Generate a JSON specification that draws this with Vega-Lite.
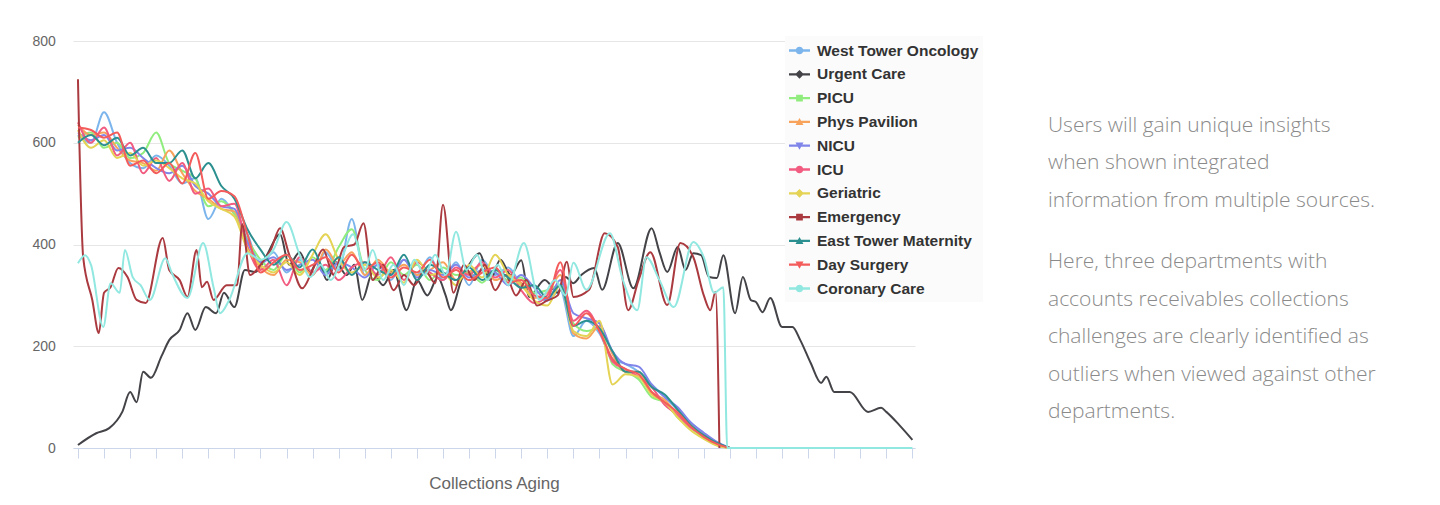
{
"$schema":"https://vega.github.io/schema/vega-lite/v6.json",
"background":"white",
"padding":{"left":32,"top":34,"right":5,"bottom":5},
"config":{"view":{"stroke":null}},
"bounds":"flush",
"spacing":132,
"datasets":{
"depts":[{"c":"WTO","dept":"West Tower Oncology"},{"c":"UC","dept":"Urgent Care"},{"c":"PICU","dept":"PICU"},{"c":"PP","dept":"Phys Pavilion"},{"c":"NICU","dept":"NICU"},{"c":"ICU","dept":"ICU"},{"c":"GER","dept":"Geriatric"},{"c":"EM","dept":"Emergency"},{"c":"ETM","dept":"East Tower Maternity"},{"c":"DS","dept":"Day Surgery"},{"c":"CC","dept":"Coronary Care"}],
"aging":[
{"c":"WTO","age":0,"amt":615},{"c":"WTO","age":0.5,"amt":600},{"c":"WTO","age":1,"amt":660},{"c":"WTO","age":1.5,"amt":600},{"c":"WTO","age":2,"amt":560},{"c":"WTO","age":2.5,"amt":550},{"c":"WTO","age":3,"amt":575},{"c":"WTO","age":3.5,"amt":555},{"c":"WTO","age":4,"amt":520},{"c":"WTO","age":4.5,"amt":530},{"c":"WTO","age":5,"amt":450},{"c":"WTO","age":5.5,"amt":490},{"c":"WTO","age":6,"amt":460},{"c":"WTO","age":6.5,"amt":420},{"c":"WTO","age":7,"amt":360},{"c":"WTO","age":7.5,"amt":385},{"c":"WTO","age":8,"amt":345},{"c":"WTO","age":8.5,"amt":370},{"c":"WTO","age":9,"amt":340},{"c":"WTO","age":9.5,"amt":385},{"c":"WTO","age":10,"amt":350},{"c":"WTO","age":10.5,"amt":450},{"c":"WTO","age":11,"amt":340},{"c":"WTO","age":11.5,"amt":360},{"c":"WTO","age":12,"amt":330},{"c":"WTO","age":12.5,"amt":370},{"c":"WTO","age":13,"amt":340},{"c":"WTO","age":13.5,"amt":375},{"c":"WTO","age":14,"amt":330},{"c":"WTO","age":14.5,"amt":365},{"c":"WTO","age":15,"amt":320},{"c":"WTO","age":15.5,"amt":370},{"c":"WTO","age":16,"amt":340},{"c":"WTO","age":16.5,"amt":355},{"c":"WTO","age":17,"amt":320},{"c":"WTO","age":17.5,"amt":300},{"c":"WTO","age":18,"amt":290},{"c":"WTO","age":18.5,"amt":310},{"c":"WTO","age":19,"amt":220},{"c":"WTO","age":19.5,"amt":250},{"c":"WTO","age":20,"amt":225},{"c":"WTO","age":20.5,"amt":175},{"c":"WTO","age":21,"amt":165},{"c":"WTO","age":21.5,"amt":150},{"c":"WTO","age":22,"amt":125},{"c":"WTO","age":22.5,"amt":100},{"c":"WTO","age":23,"amt":75},{"c":"WTO","age":23.5,"amt":50},{"c":"WTO","age":24,"amt":28},{"c":"WTO","age":24.5,"amt":10},{"c":"WTO","age":25,"amt":0},
{"c":"UC","age":0,"amt":6},{"c":"UC","age":0.7,"amt":29},{"c":"UC","age":1.2,"amt":39},{"c":"UC","age":1.7,"amt":71},{"c":"UC","age":2,"amt":110},{"c":"UC","age":2.25,"amt":90},{"c":"UC","age":2.5,"amt":150},{"c":"UC","age":2.8,"amt":138},{"c":"UC","age":3.2,"amt":180},{"c":"UC","age":3.5,"amt":212},{"c":"UC","age":3.9,"amt":232},{"c":"UC","age":4.2,"amt":265},{"c":"UC","age":4.5,"amt":232},{"c":"UC","age":4.9,"amt":277},{"c":"UC","age":5.3,"amt":265},{"c":"UC","age":5.6,"amt":305},{"c":"UC","age":6,"amt":277},{"c":"UC","age":6.4,"amt":350},{"c":"UC","age":6.8,"amt":346},{"c":"UC","age":7.2,"amt":375},{"c":"UC","age":7.75,"amt":420},{"c":"UC","age":8.1,"amt":360},{"c":"UC","age":8.5,"amt":385},{"c":"UC","age":8.9,"amt":345},{"c":"UC","age":9.2,"amt":370},{"c":"UC","age":9.55,"amt":330},{"c":"UC","age":9.9,"amt":365},{"c":"UC","age":10.3,"amt":340},{"c":"UC","age":10.6,"amt":360},{"c":"UC","age":10.9,"amt":291},{"c":"UC","age":11.3,"amt":345},{"c":"UC","age":11.7,"amt":320},{"c":"UC","age":12.1,"amt":350},{"c":"UC","age":12.6,"amt":271},{"c":"UC","age":13,"amt":330},{"c":"UC","age":13.4,"amt":300},{"c":"UC","age":13.8,"amt":335},{"c":"UC","age":14.1,"amt":300},{"c":"UC","age":14.3,"amt":271},{"c":"UC","age":14.7,"amt":330},{"c":"UC","age":15,"amt":360},{"c":"UC","age":15.4,"amt":383},{"c":"UC","age":15.8,"amt":330},{"c":"UC","age":16.2,"amt":370},{"c":"UC","age":16.6,"amt":340},{"c":"UC","age":17,"amt":369},{"c":"UC","age":17.3,"amt":297},{"c":"UC","age":17.9,"amt":330},{"c":"UC","age":18.4,"amt":305},{"c":"UC","age":18.7,"amt":336},{"c":"UC","age":19,"amt":324},{"c":"UC","age":19.3,"amt":340},{"c":"UC","age":19.8,"amt":354},{"c":"UC","age":20.1,"amt":311},{"c":"UC","age":20.7,"amt":403},{"c":"UC","age":21.3,"amt":314},{"c":"UC","age":22,"amt":432},{"c":"UC","age":22.3,"amt":385},{"c":"UC","age":22.6,"amt":346},{"c":"UC","age":23,"amt":395},{"c":"UC","age":23.3,"amt":350},{"c":"UC","age":23.6,"amt":383},{"c":"UC","age":23.9,"amt":379},{"c":"UC","age":24.2,"amt":336},{"c":"UC","age":24.5,"amt":334},{"c":"UC","age":24.75,"amt":379},{"c":"UC","age":25.2,"amt":265},{"c":"UC","age":25.5,"amt":336},{"c":"UC","age":25.8,"amt":291},{"c":"UC","age":26,"amt":287},{"c":"UC","age":26.25,"amt":267},{"c":"UC","age":26.55,"amt":295},{"c":"UC","age":27,"amt":238},{"c":"UC","age":27.4,"amt":238},{"c":"UC","age":27.7,"amt":212},{"c":"UC","age":28.1,"amt":167},{"c":"UC","age":28.5,"amt":128},{"c":"UC","age":28.7,"amt":140},{"c":"UC","age":29,"amt":110},{"c":"UC","age":29.6,"amt":110},{"c":"UC","age":30.3,"amt":71},{"c":"UC","age":30.8,"amt":79},{"c":"UC","age":31,"amt":71},{"c":"UC","age":31.5,"amt":45},{"c":"UC","age":32,"amt":16},
{"c":"PICU","age":0,"amt":610},{"c":"PICU","age":0.5,"amt":620},{"c":"PICU","age":1,"amt":590},{"c":"PICU","age":1.5,"amt":600},{"c":"PICU","age":2,"amt":570},{"c":"PICU","age":2.5,"amt":580},{"c":"PICU","age":3,"amt":620},{"c":"PICU","age":3.5,"amt":560},{"c":"PICU","age":4,"amt":545},{"c":"PICU","age":4.5,"amt":530},{"c":"PICU","age":5,"amt":475},{"c":"PICU","age":5.5,"amt":485},{"c":"PICU","age":6,"amt":460},{"c":"PICU","age":6.5,"amt":410},{"c":"PICU","age":7,"amt":370},{"c":"PICU","age":7.5,"amt":350},{"c":"PICU","age":8,"amt":380},{"c":"PICU","age":8.5,"amt":345},{"c":"PICU","age":9,"amt":375},{"c":"PICU","age":9.5,"amt":350},{"c":"PICU","age":10,"amt":395},{"c":"PICU","age":10.5,"amt":430},{"c":"PICU","age":11,"amt":350},{"c":"PICU","age":11.5,"amt":330},{"c":"PICU","age":12,"amt":365},{"c":"PICU","age":12.5,"amt":340},{"c":"PICU","age":13,"amt":360},{"c":"PICU","age":13.5,"amt":330},{"c":"PICU","age":14,"amt":355},{"c":"PICU","age":14.5,"amt":340},{"c":"PICU","age":15,"amt":345},{"c":"PICU","age":15.5,"amt":325},{"c":"PICU","age":16,"amt":350},{"c":"PICU","age":16.5,"amt":330},{"c":"PICU","age":17,"amt":335},{"c":"PICU","age":17.5,"amt":305},{"c":"PICU","age":18,"amt":310},{"c":"PICU","age":18.5,"amt":320},{"c":"PICU","age":19,"amt":245},{"c":"PICU","age":19.5,"amt":230},{"c":"PICU","age":20,"amt":235},{"c":"PICU","age":20.5,"amt":165},{"c":"PICU","age":21,"amt":150},{"c":"PICU","age":21.5,"amt":135},{"c":"PICU","age":22,"amt":100},{"c":"PICU","age":22.5,"amt":90},{"c":"PICU","age":23,"amt":60},{"c":"PICU","age":23.5,"amt":40},{"c":"PICU","age":24,"amt":20},{"c":"PICU","age":24.5,"amt":8},{"c":"PICU","age":25,"amt":0},
{"c":"PP","age":0,"amt":635},{"c":"PP","age":0.5,"amt":615},{"c":"PP","age":1,"amt":620},{"c":"PP","age":1.5,"amt":590},{"c":"PP","age":2,"amt":565},{"c":"PP","age":2.5,"amt":560},{"c":"PP","age":3,"amt":545},{"c":"PP","age":3.5,"amt":585},{"c":"PP","age":4,"amt":540},{"c":"PP","age":4.5,"amt":505},{"c":"PP","age":5,"amt":490},{"c":"PP","age":5.5,"amt":470},{"c":"PP","age":6,"amt":465},{"c":"PP","age":6.5,"amt":395},{"c":"PP","age":7,"amt":355},{"c":"PP","age":7.5,"amt":340},{"c":"PP","age":8,"amt":370},{"c":"PP","age":8.5,"amt":365},{"c":"PP","age":9,"amt":340},{"c":"PP","age":9.5,"amt":390},{"c":"PP","age":10,"amt":360},{"c":"PP","age":10.5,"amt":385},{"c":"PP","age":11,"amt":340},{"c":"PP","age":11.5,"amt":370},{"c":"PP","age":12,"amt":345},{"c":"PP","age":12.5,"amt":360},{"c":"PP","age":13,"amt":340},{"c":"PP","age":13.5,"amt":350},{"c":"PP","age":14,"amt":365},{"c":"PP","age":14.5,"amt":330},{"c":"PP","age":15,"amt":345},{"c":"PP","age":15.5,"amt":360},{"c":"PP","age":16,"amt":330},{"c":"PP","age":16.5,"amt":340},{"c":"PP","age":17,"amt":325},{"c":"PP","age":17.5,"amt":295},{"c":"PP","age":18,"amt":305},{"c":"PP","age":18.5,"amt":340},{"c":"PP","age":19,"amt":225},{"c":"PP","age":19.5,"amt":215},{"c":"PP","age":20,"amt":240},{"c":"PP","age":20.5,"amt":185},{"c":"PP","age":21,"amt":150},{"c":"PP","age":21.5,"amt":150},{"c":"PP","age":22,"amt":110},{"c":"PP","age":22.5,"amt":95},{"c":"PP","age":23,"amt":65},{"c":"PP","age":23.5,"amt":45},{"c":"PP","age":24,"amt":22},{"c":"PP","age":24.5,"amt":8},{"c":"PP","age":25,"amt":0},
{"c":"NICU","age":0,"amt":620},{"c":"NICU","age":0.5,"amt":605},{"c":"NICU","age":1,"amt":615},{"c":"NICU","age":1.5,"amt":585},{"c":"NICU","age":2,"amt":590},{"c":"NICU","age":2.5,"amt":570},{"c":"NICU","age":3,"amt":550},{"c":"NICU","age":3.5,"amt":540},{"c":"NICU","age":4,"amt":555},{"c":"NICU","age":4.5,"amt":515},{"c":"NICU","age":5,"amt":500},{"c":"NICU","age":5.5,"amt":475},{"c":"NICU","age":6,"amt":470},{"c":"NICU","age":6.5,"amt":405},{"c":"NICU","age":7,"amt":365},{"c":"NICU","age":7.5,"amt":375},{"c":"NICU","age":8,"amt":350},{"c":"NICU","age":8.5,"amt":360},{"c":"NICU","age":9,"amt":370},{"c":"NICU","age":9.5,"amt":340},{"c":"NICU","age":10,"amt":365},{"c":"NICU","age":10.5,"amt":355},{"c":"NICU","age":11,"amt":335},{"c":"NICU","age":11.5,"amt":360},{"c":"NICU","age":12,"amt":340},{"c":"NICU","age":12.5,"amt":370},{"c":"NICU","age":13,"amt":335},{"c":"NICU","age":13.5,"amt":350},{"c":"NICU","age":14,"amt":340},{"c":"NICU","age":14.5,"amt":360},{"c":"NICU","age":15,"amt":335},{"c":"NICU","age":15.5,"amt":350},{"c":"NICU","age":16,"amt":345},{"c":"NICU","age":16.5,"amt":320},{"c":"NICU","age":17,"amt":340},{"c":"NICU","age":17.5,"amt":315},{"c":"NICU","age":18,"amt":290},{"c":"NICU","age":18.5,"amt":330},{"c":"NICU","age":19,"amt":265},{"c":"NICU","age":19.5,"amt":255},{"c":"NICU","age":20,"amt":245},{"c":"NICU","age":20.5,"amt":190},{"c":"NICU","age":21,"amt":165},{"c":"NICU","age":21.5,"amt":160},{"c":"NICU","age":22,"amt":125},{"c":"NICU","age":22.5,"amt":100},{"c":"NICU","age":23,"amt":80},{"c":"NICU","age":23.5,"amt":50},{"c":"NICU","age":24,"amt":30},{"c":"NICU","age":24.5,"amt":12},{"c":"NICU","age":25,"amt":0},
{"c":"ICU","age":0,"amt":640},{"c":"ICU","age":0.5,"amt":600},{"c":"ICU","age":1,"amt":630},{"c":"ICU","age":1.5,"amt":575},{"c":"ICU","age":2,"amt":600},{"c":"ICU","age":2.5,"amt":540},{"c":"ICU","age":3,"amt":570},{"c":"ICU","age":3.5,"amt":525},{"c":"ICU","age":4,"amt":560},{"c":"ICU","age":4.5,"amt":500},{"c":"ICU","age":5,"amt":510},{"c":"ICU","age":5.5,"amt":475},{"c":"ICU","age":6,"amt":480},{"c":"ICU","age":6.5,"amt":395},{"c":"ICU","age":7,"amt":350},{"c":"ICU","age":7.5,"amt":370},{"c":"ICU","age":8,"amt":320},{"c":"ICU","age":8.5,"amt":375},{"c":"ICU","age":9,"amt":345},{"c":"ICU","age":9.5,"amt":360},{"c":"ICU","age":10,"amt":330},{"c":"ICU","age":10.5,"amt":355},{"c":"ICU","age":11,"amt":365},{"c":"ICU","age":11.5,"amt":340},{"c":"ICU","age":12,"amt":375},{"c":"ICU","age":12.5,"amt":330},{"c":"ICU","age":13,"amt":365},{"c":"ICU","age":13.5,"amt":345},{"c":"ICU","age":14,"amt":330},{"c":"ICU","age":14.5,"amt":355},{"c":"ICU","age":15,"amt":340},{"c":"ICU","age":15.5,"amt":365},{"c":"ICU","age":16,"amt":335},{"c":"ICU","age":16.5,"amt":350},{"c":"ICU","age":17,"amt":310},{"c":"ICU","age":17.5,"amt":285},{"c":"ICU","age":18,"amt":300},{"c":"ICU","age":18.5,"amt":350},{"c":"ICU","age":19,"amt":250},{"c":"ICU","age":19.5,"amt":270},{"c":"ICU","age":20,"amt":230},{"c":"ICU","age":20.5,"amt":170},{"c":"ICU","age":21,"amt":155},{"c":"ICU","age":21.5,"amt":140},{"c":"ICU","age":22,"amt":120},{"c":"ICU","age":22.5,"amt":85},{"c":"ICU","age":23,"amt":65},{"c":"ICU","age":23.5,"amt":40},{"c":"ICU","age":24,"amt":25},{"c":"ICU","age":24.5,"amt":6},{"c":"ICU","age":25,"amt":0},
{"c":"GER","age":0,"amt":625},{"c":"GER","age":0.5,"amt":590},{"c":"GER","age":1,"amt":605},{"c":"GER","age":1.5,"amt":570},{"c":"GER","age":2,"amt":580},{"c":"GER","age":2.5,"amt":555},{"c":"GER","age":3,"amt":565},{"c":"GER","age":3.5,"amt":550},{"c":"GER","age":4,"amt":530},{"c":"GER","age":4.5,"amt":520},{"c":"GER","age":5,"amt":485},{"c":"GER","age":5.5,"amt":470},{"c":"GER","age":6,"amt":455},{"c":"GER","age":6.5,"amt":390},{"c":"GER","age":7,"amt":360},{"c":"GER","age":7.5,"amt":345},{"c":"GER","age":8,"amt":365},{"c":"GER","age":8.5,"amt":340},{"c":"GER","age":9,"amt":380},{"c":"GER","age":9.5,"amt":420},{"c":"GER","age":10,"amt":370},{"c":"GER","age":10.5,"amt":345},{"c":"GER","age":11,"amt":360},{"c":"GER","age":11.5,"amt":335},{"c":"GER","age":12,"amt":350},{"c":"GER","age":12.5,"amt":325},{"c":"GER","age":13,"amt":370},{"c":"GER","age":13.5,"amt":340},{"c":"GER","age":14,"amt":345},{"c":"GER","age":14.5,"amt":320},{"c":"GER","age":15,"amt":360},{"c":"GER","age":15.5,"amt":335},{"c":"GER","age":16,"amt":380},{"c":"GER","age":16.5,"amt":340},{"c":"GER","age":17,"amt":320},{"c":"GER","age":17.5,"amt":290},{"c":"GER","age":18,"amt":280},{"c":"GER","age":18.5,"amt":320},{"c":"GER","age":19,"amt":230},{"c":"GER","age":19.5,"amt":220},{"c":"GER","age":20,"amt":250},{"c":"GER","age":20.5,"amt":125},{"c":"GER","age":21,"amt":145},{"c":"GER","age":21.5,"amt":140},{"c":"GER","age":22,"amt":105},{"c":"GER","age":22.5,"amt":90},{"c":"GER","age":23,"amt":60},{"c":"GER","age":23.5,"amt":35},{"c":"GER","age":24,"amt":18},{"c":"GER","age":24.5,"amt":5},{"c":"GER","age":25,"amt":0},
{"c":"EM","age":0,"amt":725},{"c":"EM","age":0.2,"amt":375},{"c":"EM","age":0.55,"amt":291},{"c":"EM","age":0.8,"amt":226},{"c":"EM","age":1,"amt":305},{"c":"EM","age":1.25,"amt":316},{"c":"EM","age":1.55,"amt":354},{"c":"EM","age":1.9,"amt":336},{"c":"EM","age":2.25,"amt":291},{"c":"EM","age":2.6,"amt":285},{"c":"EM","age":3.25,"amt":413},{"c":"EM","age":3.5,"amt":350},{"c":"EM","age":3.9,"amt":330},{"c":"EM","age":4.2,"amt":297},{"c":"EM","age":4.55,"amt":389},{"c":"EM","age":4.75,"amt":316},{"c":"EM","age":4.95,"amt":327},{"c":"EM","age":5.2,"amt":291},{"c":"EM","age":5.7,"amt":320},{"c":"EM","age":6.1,"amt":320},{"c":"EM","age":6.3,"amt":440},{"c":"EM","age":6.6,"amt":340},{"c":"EM","age":7,"amt":360},{"c":"EM","age":7.4,"amt":390},{"c":"EM","age":7.75,"amt":432},{"c":"EM","age":8.1,"amt":380},{"c":"EM","age":8.6,"amt":314},{"c":"EM","age":9,"amt":350},{"c":"EM","age":9.4,"amt":390},{"c":"EM","age":9.8,"amt":340},{"c":"EM","age":10.2,"amt":395},{"c":"EM","age":10.6,"amt":400},{"c":"EM","age":10.95,"amt":442},{"c":"EM","age":11.3,"amt":330},{"c":"EM","age":11.7,"amt":360},{"c":"EM","age":12.1,"amt":310},{"c":"EM","age":12.5,"amt":340},{"c":"EM","age":12.9,"amt":320},{"c":"EM","age":13.3,"amt":350},{"c":"EM","age":13.7,"amt":324},{"c":"EM","age":14,"amt":478},{"c":"EM","age":14.4,"amt":305},{"c":"EM","age":14.8,"amt":360},{"c":"EM","age":15.2,"amt":330},{"c":"EM","age":15.6,"amt":360},{"c":"EM","age":16,"amt":310},{"c":"EM","age":16.4,"amt":340},{"c":"EM","age":16.8,"amt":300},{"c":"EM","age":17.2,"amt":330},{"c":"EM","age":17.6,"amt":280},{"c":"EM","age":18,"amt":290},{"c":"EM","age":18.4,"amt":300},{"c":"EM","age":18.75,"amt":366},{"c":"EM","age":19,"amt":297},{"c":"EM","age":19.6,"amt":311},{"c":"EM","age":20.2,"amt":422},{"c":"EM","age":20.7,"amt":395},{"c":"EM","age":21.1,"amt":271},{"c":"EM","age":21.5,"amt":330},{"c":"EM","age":21.95,"amt":385},{"c":"EM","age":22.6,"amt":281},{"c":"EM","age":23.1,"amt":403},{"c":"EM","age":23.6,"amt":375},{"c":"EM","age":24,"amt":300},{"c":"EM","age":24.25,"amt":271},{"c":"EM","age":24.45,"amt":307},{"c":"EM","age":24.6,"amt":0},
{"c":"ETM","age":0,"amt":600},{"c":"ETM","age":0.5,"amt":615},{"c":"ETM","age":1,"amt":595},{"c":"ETM","age":1.5,"amt":610},{"c":"ETM","age":2,"amt":575},{"c":"ETM","age":2.5,"amt":590},{"c":"ETM","age":3,"amt":560},{"c":"ETM","age":3.5,"amt":560},{"c":"ETM","age":4,"amt":585},{"c":"ETM","age":4.5,"amt":530},{"c":"ETM","age":5,"amt":560},{"c":"ETM","age":5.5,"amt":515},{"c":"ETM","age":6,"amt":490},{"c":"ETM","age":6.5,"amt":430},{"c":"ETM","age":7,"amt":390},{"c":"ETM","age":7.5,"amt":360},{"c":"ETM","age":8,"amt":380},{"c":"ETM","age":8.5,"amt":355},{"c":"ETM","age":9,"amt":390},{"c":"ETM","age":9.5,"amt":345},{"c":"ETM","age":10,"amt":375},{"c":"ETM","age":10.5,"amt":340},{"c":"ETM","age":11,"amt":365},{"c":"ETM","age":11.5,"amt":350},{"c":"ETM","age":12,"amt":340},{"c":"ETM","age":12.5,"amt":380},{"c":"ETM","age":13,"amt":330},{"c":"ETM","age":13.5,"amt":360},{"c":"ETM","age":14,"amt":345},{"c":"ETM","age":14.5,"amt":330},{"c":"ETM","age":15,"amt":355},{"c":"ETM","age":15.5,"amt":330},{"c":"ETM","age":16,"amt":350},{"c":"ETM","age":16.5,"amt":335},{"c":"ETM","age":17,"amt":315},{"c":"ETM","age":17.5,"amt":320},{"c":"ETM","age":18,"amt":295},{"c":"ETM","age":18.5,"amt":320},{"c":"ETM","age":19,"amt":240},{"c":"ETM","age":19.5,"amt":250},{"c":"ETM","age":20,"amt":235},{"c":"ETM","age":20.5,"amt":190},{"c":"ETM","age":21,"amt":150},{"c":"ETM","age":21.5,"amt":150},{"c":"ETM","age":22,"amt":120},{"c":"ETM","age":22.5,"amt":105},{"c":"ETM","age":23,"amt":75},{"c":"ETM","age":23.5,"amt":45},{"c":"ETM","age":24,"amt":25},{"c":"ETM","age":24.5,"amt":10},{"c":"ETM","age":25,"amt":0},
{"c":"DS","age":0,"amt":630},{"c":"DS","age":0.5,"amt":625},{"c":"DS","age":1,"amt":610},{"c":"DS","age":1.5,"amt":620},{"c":"DS","age":2,"amt":555},{"c":"DS","age":2.5,"amt":565},{"c":"DS","age":3,"amt":540},{"c":"DS","age":3.5,"amt":560},{"c":"DS","age":4,"amt":520},{"c":"DS","age":4.5,"amt":580},{"c":"DS","age":5,"amt":490},{"c":"DS","age":5.5,"amt":505},{"c":"DS","age":6,"amt":495},{"c":"DS","age":6.5,"amt":420},{"c":"DS","age":7,"amt":345},{"c":"DS","age":7.5,"amt":365},{"c":"DS","age":8,"amt":380},{"c":"DS","age":8.5,"amt":350},{"c":"DS","age":9,"amt":360},{"c":"DS","age":9.5,"amt":375},{"c":"DS","age":10,"amt":345},{"c":"DS","age":10.5,"amt":380},{"c":"DS","age":11,"amt":350},{"c":"DS","age":11.5,"amt":365},{"c":"DS","age":12,"amt":335},{"c":"DS","age":12.5,"amt":355},{"c":"DS","age":13,"amt":345},{"c":"DS","age":13.5,"amt":370},{"c":"DS","age":14,"amt":335},{"c":"DS","age":14.5,"amt":350},{"c":"DS","age":15,"amt":330},{"c":"DS","age":15.5,"amt":345},{"c":"DS","age":16,"amt":355},{"c":"DS","age":16.5,"amt":325},{"c":"DS","age":17,"amt":330},{"c":"DS","age":17.5,"amt":300},{"c":"DS","age":18,"amt":295},{"c":"DS","age":18.5,"amt":365},{"c":"DS","age":19,"amt":240},{"c":"DS","age":19.5,"amt":265},{"c":"DS","age":20,"amt":230},{"c":"DS","age":20.5,"amt":175},{"c":"DS","age":21,"amt":155},{"c":"DS","age":21.5,"amt":145},{"c":"DS","age":22,"amt":110},{"c":"DS","age":22.5,"amt":90},{"c":"DS","age":23,"amt":70},{"c":"DS","age":23.5,"amt":42},{"c":"DS","age":24,"amt":22},{"c":"DS","age":24.5,"amt":8},{"c":"DS","age":25,"amt":0},
{"c":"CC","age":0,"amt":363},{"c":"CC","age":0.27,"amt":379},{"c":"CC","age":0.5,"amt":360},{"c":"CC","age":0.97,"amt":238},{"c":"CC","age":1.25,"amt":324},{"c":"CC","age":1.6,"amt":305},{"c":"CC","age":1.8,"amt":389},{"c":"CC","age":2.1,"amt":336},{"c":"CC","age":2.4,"amt":320},{"c":"CC","age":2.76,"amt":291},{"c":"CC","age":3.35,"amt":373},{"c":"CC","age":3.6,"amt":344},{"c":"CC","age":4.2,"amt":295},{"c":"CC","age":4.8,"amt":403},{"c":"CC","age":5.2,"amt":316},{"c":"CC","age":5.45,"amt":265},{"c":"CC","age":5.8,"amt":291},{"c":"CC","age":6.5,"amt":383},{"c":"CC","age":7,"amt":370},{"c":"CC","age":7.5,"amt":390},{"c":"CC","age":8,"amt":444},{"c":"CC","age":8.5,"amt":380},{"c":"CC","age":8.9,"amt":336},{"c":"CC","age":9.3,"amt":360},{"c":"CC","age":9.7,"amt":330},{"c":"CC","age":10.1,"amt":370},{"c":"CC","age":10.55,"amt":420},{"c":"CC","age":11,"amt":350},{"c":"CC","age":11.3,"amt":389},{"c":"CC","age":11.7,"amt":330},{"c":"CC","age":12.1,"amt":360},{"c":"CC","age":12.5,"amt":320},{"c":"CC","age":12.9,"amt":370},{"c":"CC","age":13.3,"amt":340},{"c":"CC","age":13.7,"amt":380},{"c":"CC","age":14.1,"amt":340},{"c":"CC","age":14.5,"amt":425},{"c":"CC","age":14.9,"amt":350},{"c":"CC","age":15.3,"amt":380},{"c":"CC","age":15.7,"amt":330},{"c":"CC","age":16.1,"amt":360},{"c":"CC","age":16.5,"amt":320},{"c":"CC","age":17.1,"amt":403},{"c":"CC","age":17.7,"amt":291},{"c":"CC","age":18.3,"amt":330},{"c":"CC","age":18.7,"amt":300},{"c":"CC","age":19,"amt":364},{"c":"CC","age":19.5,"amt":311},{"c":"CC","age":20.4,"amt":422},{"c":"CC","age":20.9,"amt":330},{"c":"CC","age":21.45,"amt":271},{"c":"CC","age":21.8,"amt":375},{"c":"CC","age":22.3,"amt":330},{"c":"CC","age":22.85,"amt":277},{"c":"CC","age":23.6,"amt":405},{"c":"CC","age":24,"amt":375},{"c":"CC","age":24.4,"amt":305},{"c":"CC","age":24.75,"amt":316},{"c":"CC","age":24.9,"amt":0},{"c":"CC","age":32,"amt":0}
]},
"hconcat":[
{
"width":842,"height":407,
"data":{"name":"aging"},
"transform":[{"lookup":"c","from":{"data":{"name":"depts"},"key":"c","fields":["dept"]}}],
"encoding":{
"x":{"field":"age","type":"quantitative","scale":{"domain":[-0.19,32.1],"nice":false,"zero":false},
"axis":{"values":[0,1,2,3,4,5,6,7,8,9,10,11,12,13,14,15,16,17,18,19,20,21,22,23,24,25,26,27,28,29,30,31,32],"labels":false,"grid":false,"domainColor":"#ccd6eb","tickColor":"#ccd6eb","tickSize":10,"title":"Collections Aging","titleFont":"Liberation Sans","titleFontSize":17,"titleFontWeight":"normal","titleColor":"#666666","titlePadding":17}},
"y":{"field":"amt","type":"quantitative","scale":{"domain":[0,800],"nice":false},
"axis":{"values":[0,200,400,600,800],"title":null,"domain":false,"ticks":false,"tickSize":0,"grid":true,"gridColor":"#e6e6e6","labelFont":"Liberation Sans","labelFontSize":14,"labelColor":"#666666","labelPadding":17.6}}
},
"layer":[
{"transform":[{"filter":"datum.age < -1"}],
"mark":{"type":"point","filled":true},
"encoding":{
"color":{"field":"dept","type":"nominal",
"scale":{"domain":["West Tower Oncology","Urgent Care","PICU","Phys Pavilion","NICU","ICU","Geriatric","Emergency","East Tower Maternity","Day Surgery","Coronary Care"],
"range":["#7cb5ec","#434348","#90ed7d","#f7a35c","#8085e9","#f15c80","#e4d354","#aa3a3f","#2b908f","#f45b5b","#91e8e1"]},
"legend":{"orient":"none","legendX":712,"legendY":-5,"title":null,"fillColor":"#fbfbfb","padding":4,"symbolSize":441,"symbolOpacity":1,"symbolStrokeWidth":0,"labelFont":"Liberation Sans","labelFontSize":15.5,"labelFontWeight":"bold","labelColor":"#333333","labelOffset":7,"rowPadding":4.8,"labelLimit":0}},
"shape":{"field":"dept","type":"nominal",
"scale":{"domain":["West Tower Oncology","Urgent Care","PICU","Phys Pavilion","NICU","ICU","Geriatric","Emergency","East Tower Maternity","Day Surgery","Coronary Care"],
"range":["M-1,-0.11H1V0.11H-1Z M-0.36,0A0.36,0.36 0 1,1 0.36,0A0.36,0.36 0 1,1 -0.36,0Z","M-1,-0.11H1V0.11H-1Z M0,-0.42L0.42,0L0,0.42L-0.42,0Z","M-1,-0.11H1V0.11H-1Z M-0.32,-0.32H0.32V0.32H-0.32Z","M-1,-0.11H1V0.11H-1Z M0,-0.38L0.38,0.3L-0.38,0.3Z","M-1,-0.11H1V0.11H-1Z M0,0.38L-0.38,-0.3L0.38,-0.3Z","M-1,-0.11H1V0.11H-1Z M-0.36,0A0.36,0.36 0 1,1 0.36,0A0.36,0.36 0 1,1 -0.36,0Z","M-1,-0.11H1V0.11H-1Z M0,-0.42L0.42,0L0,0.42L-0.42,0Z","M-1,-0.11H1V0.11H-1Z M-0.32,-0.32H0.32V0.32H-0.32Z","M-1,-0.11H1V0.11H-1Z M0,-0.38L0.38,0.3L-0.38,0.3Z","M-1,-0.11H1V0.11H-1Z M0,0.38L-0.38,-0.3L0.38,-0.3Z","M-1,-0.11H1V0.11H-1Z M-0.36,0A0.36,0.36 0 1,1 0.36,0A0.36,0.36 0 1,1 -0.36,0Z"]},
"legend":{"orient":"none","legendX":712,"legendY":-5,"title":null,"fillColor":"#fbfbfb","padding":4,"symbolSize":441,"symbolOpacity":1,"symbolStrokeWidth":0,"labelFont":"Liberation Sans","labelFontSize":15.5,"labelFontWeight":"bold","labelColor":"#333333","labelOffset":7,"rowPadding":4.8,"labelLimit":0}}
}},
{"mark":{"type":"line","interpolate":"monotone","strokeWidth":2},
"encoding":{"color":{"field":"dept","type":"nominal","legend":null,
"scale":{"domain":["West Tower Oncology","Urgent Care","PICU","Phys Pavilion","NICU","ICU","Geriatric","Emergency","East Tower Maternity","Day Surgery","Coronary Care"],
"range":["#7cb5ec","#434348","#90ed7d","#f7a35c","#8085e9","#f15c80","#e4d354","#aa3a3f","#2b908f","#f45b5b","#91e8e1"]}}}}
]
},
{
"width":2,"height":318,
"data":{"values":[{"para":1,"text":"Users will gain unique insights\nwhen shown integrated\ninformation from multiple sources."},{"para":2,"text":"Here, three departments with\naccounts receivables collections\nchallenges are clearly identified as\noutliers when viewed against other\ndepartments."}]},
"mark":{"type":"text","align":"left","baseline":"alphabetic","lineBreak":"\n","lineHeight":37.5,"font":"Open Sans","fontSize":21,"fontWeight":300,"color":"#8a8a8a"},
"encoding":{"y":{"field":"para","type":"ordinal","axis":null,"scale":{"padding":0.6655}},"text":{"field":"text","type":"nominal"}}
}
]
}
